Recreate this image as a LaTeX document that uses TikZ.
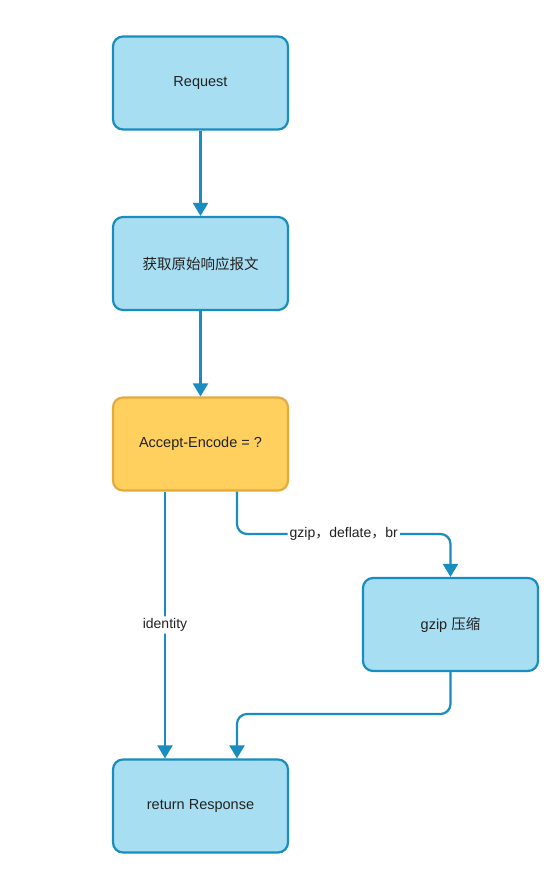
\documentclass[tikz,border=0pt]{standalone}
\usepackage{fontspec}
\setmainfont{Liberation Sans}
\newfontfamily\cjk{Noto Sans CJK SC}
\usetikzlibrary{arrows.meta,positioning}
\definecolor{bfill}{HTML}{A8DEF2}
\definecolor{bline}{HTML}{1A8DC0}
\definecolor{ofill}{HTML}{FFD05E}
\definecolor{oline}{HTML}{E3AA3C}
\definecolor{txt}{HTML}{222222}
\tikzset{
  box/.style={draw=bline, fill=bfill, line width=2.2pt, rounded corners=10pt,
    minimum width=175pt, minimum height=93pt, inner sep=0pt, font=\fontsize{14.5}{17}\selectfont, text=txt},
  obox/.style={box, draw=oline, fill=ofill},
  conn/.style={draw=bline, line width=2.2pt, rounded corners=10pt,
    -{Triangle[width=15pt,length=13pt]}},
  lbl/.style={fill=white, inner sep=2pt, font=\fontsize{14}{16}\selectfont, text=txt}
}
\begin{document}
\begin{tikzpicture}[x=1pt,y=-1pt]
\useasboundingbox[fill=white] (0,0) rectangle (552,876);
\node[box]  (req)  at (200.5,83)  {Request};
\node[box]  (get)  at (200.5,263.5) {\cjk 获取原始响应报文};
\node[obox] (acc)  at (200.5,444) {Accept-Encode = ?};
\node[box]  (gz)   at (450.5,624.5) {gzip {\cjk 压缩}};
\node[box]  (ret)  at (200.5,806) {return Response};
\draw[conn] (req) -- (get);
\draw[conn] (get) -- (acc);
\draw[conn] (acc.south -| 165,0) -- node[lbl, pos=0.5]{identity} (ret.north -| 165,0);
\coordinate (c1) at (237,534);
\coordinate (c2) at (450.5,534);
\draw[conn] (acc.south -| c1) -- (c1) -- node[lbl, pos=0.5]{gzip{\cjk ，}deflate{\cjk ，}br} (c2) -- (gz.north);
\coordinate (d1) at (450.5,714);
\coordinate (d2) at (237,714);
\draw[conn] (gz.south) -- (d1) -- (d2) -- (ret.north -| d2);
\end{tikzpicture}
\end{document}
